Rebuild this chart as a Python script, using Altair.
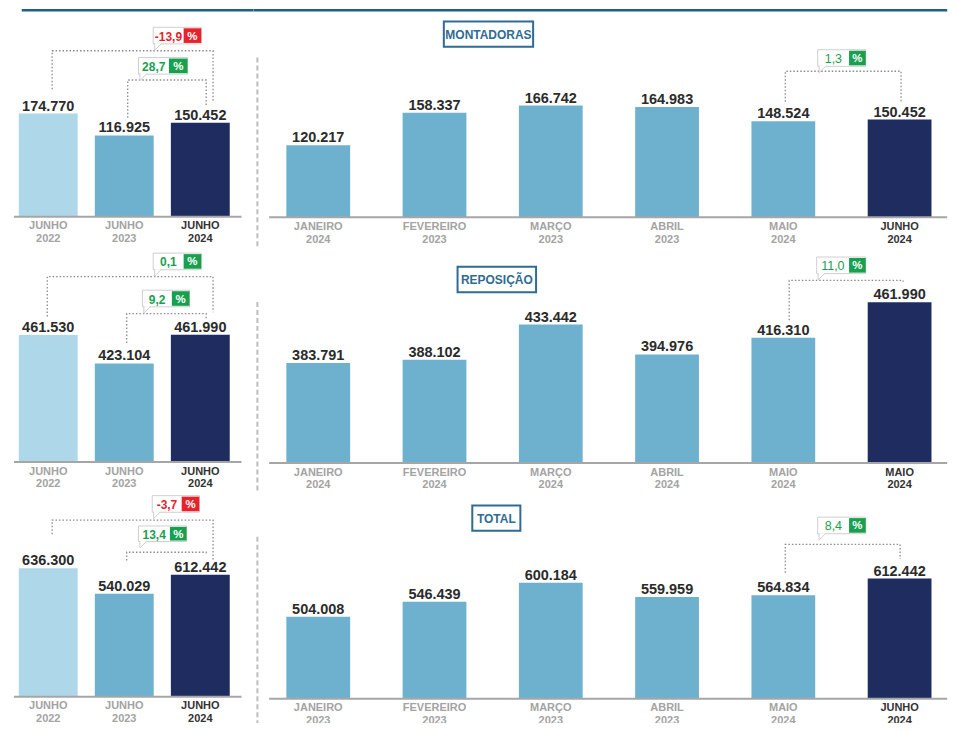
import altair as alt
import pandas as pd

SX = 941 / 957
SY = 715 / 731

# ---------------- data ----------------
titles = ["MONTADORAS", "REPOSIÇÃO", "TOTAL"]

left_months = ["JUNHO", "JUNHO", "JUNHO"]
left_years = ["2022", "2023", "2024"]
montadoras_left = [174770, 116925, 150452]
reposicao_left = [461530, 423104, 461990]
total_left = [636300, 540029, 612442]

montadoras_months = ["JANEIRO", "FEVEREIRO", "MARÇO", "ABRIL", "MAIO", "JUNHO"]
montadoras_years = ["2024", "2023", "2023", "2023", "2024", "2024"]
montadoras_right = [120217, 158337, 166742, 164983, 148524, 150452]

reposicao_months = ["JANEIRO", "FEVEREIRO", "MARÇO", "ABRIL", "MAIO", "MAIO"]
reposicao_years = ["2024", "2024", "2024", "2024", "2024", "2024"]
reposicao_right = [383791, 388102, 433442, 394976, 416310, 461990]

total_months = ["JANEIRO", "FEVEREIRO", "MARÇO", "ABRIL", "MAIO", "JUNHO"]
total_years = ["2023", "2023", "2023", "2023", "2024", "2024"]
total_right = [504008, 546439, 600184, 559959, 564834, 612442]

montadoras_changes = ["-13,9", "28,7"]
reposicao_changes = ["0,1", "9,2"]
total_changes = ["-3,7", "13,4"]
montadoras_month_change = "1,3"
reposicao_month_change = "11,0"
total_month_change = "8,4"

# ---------------- style ----------------
LIGHT, MEDIUM, NAVY = "#aed7ea", "#6eb1cf", "#1e2c5f"
RED, GREEN = "#e8222b", "#19a04f"
TITLE_C = "#2f6b95"
FONT = "Liberation Sans"
NARROW = "Liberation Sans Narrow, Liberation Sans, sans-serif"


def fmt(v):
    return f"{v:,}".replace(",", ".")


class P:
    """Panel geometry (reference-pixel units) and the linear value scale."""

    def __init__(self, W, R, yb, a, b, x0, step, bw):
        self.W, self.R, self.yb, self.a, self.b = W, R, yb, a, b
        self.x0, self.step, self.bw = x0, step, bw

    def xi(self, px):
        return (px - self.x0) / self.step

    def yv(self, h):
        return (h - self.a) / self.b * 1000

    def ry(self, rowy):
        return self.yv(self.yb - rowy)

    def fit_h(self, v):
        return self.a + self.b * v / 1000


def panel(p, values, months, years, colors, hl, rule_x, brackets, callouts,
          bold_nums, title=None, sep=None, topline=None, clip=False):
    xs = alt.Scale(domain=[p.xi(0), p.xi(p.W)], nice=False, zero=False, padding=0)
    ys = alt.Scale(domain=[p.ry(p.R), p.ry(0)], nice=False, zero=False, padding=0)

    def X(f):
        return alt.X(f + ":Q", scale=xs, axis=None)

    def Y(f):
        return alt.Y(f + ":Q", scale=ys, axis=None)

    base = p.yv(0)
    n = len(values)
    layers = []

    if topline:
        df = pd.DataFrame({"x": [p.xi(topline[0])], "x2": [p.xi(topline[1])], "y": [p.ry(1.5)]})
        layers.append(alt.Chart(df).mark_rule(color="#1f5f88", strokeWidth=2.5)
                      .encode(x=X("x"), x2="x2:Q", y=Y("y")))
    if sep:
        df = pd.DataFrame({"x": [p.xi(4)], "y": [p.ry(sep[0])], "y2": [p.ry(sep[1])]})
        layers.append(alt.Chart(df).mark_rule(color="#bdbdbd", strokeWidth=2, strokeDash=[5, 3])
                      .encode(x=X("x"), y=Y("y"), y2="y2:Q"))

    if title:
        tx0, tx1, ty0, ty1 = title[1]
        df = pd.DataFrame({"x": [p.xi(tx0)], "x2": [p.xi(tx1)], "y": [p.ry(ty0)], "y2": [p.ry(ty1)],
                           "cx": [p.xi((tx0 + tx1) / 2)], "cy": [p.ry((ty0 + ty1) / 2)], "t": [title[0]]})
        layers.append(alt.Chart(df).mark_rect(fill="white", stroke=TITLE_C, strokeWidth=2)
                      .encode(x=X("x"), x2="x2:Q", y=Y("y"), y2="y2:Q"))
        layers.append(alt.Chart(df).mark_text(font=NARROW, fontSize=12, fontWeight="bold",
                                              color=TITLE_C, baseline="middle", dy=1)
                      .encode(x=X("cx"), y=Y("cy"), text="t:N"))

    bars = pd.DataFrame({"x": list(range(n)), "y": values, "y2": [base] * n,
                         "c": colors, "t": [fmt(v) for v in values]})
    layers.append(alt.Chart(bars).mark_bar(width=p.bw * SX)
                  .encode(x=X("x"), y=Y("y"), y2="y2:Q", color=alt.Color("c:N", scale=None)))
    layers.append(alt.Chart(bars).mark_text(font=FONT, fontSize=14.5, fontWeight="bold",
                                            color="#2b2b2b", baseline="alphabetic", dy=-3)
                  .encode(x=X("x"), y=Y("y"), text="t:N"))

    # baseline
    df = pd.DataFrame({"x": [p.xi(rule_x[0])], "x2": [p.xi(rule_x[1])], "y": [base]})
    layers.append(alt.Chart(df).mark_rule(color="#a6a6a6", strokeWidth=2)
                  .encode(x=X("x"), x2="x2:Q", y=Y("y")))

    # category labels
    rows_n, rows_h = [], []
    for i in range(n):
        for txt, h in ((months[i], -10), (years[i], -23)):
            (rows_h if i == hl else rows_n).append({"x": i, "y": p.yv(h), "t": txt})
    for rows, col, wt in ((rows_n, "#a3a3a3", "bold"), (rows_h, "#333333", "bold")):
        layers.append(alt.Chart(pd.DataFrame(rows)).mark_text(font=FONT, fontSize=11, fontWeight=wt,
                                                              color=col, baseline="middle", clip=clip)
                      .encode(x=X("x"), y=Y("y"), text="t:N"))

    # dotted brackets
    brows = []
    for k, (i, xs0, off0, lvl, j, xs1, off1) in enumerate(brackets):
        y0 = p.yb - (p.fit_h(values[i]) + off0)
        y1 = p.yb - (p.fit_h(values[j]) + off1)
        pts = [(xs0, y0), (xs0, lvl), (xs1, lvl), (xs1, y1)]
        for o, (px, ry) in enumerate(pts):
            brows.append({"b": k, "o": o, "x": p.xi(px), "y": p.ry(ry)})
    layers.append(alt.Chart(pd.DataFrame(brows)).mark_line(color="#8a8a8a", strokeWidth=1.3,
                                                          strokeDash=[1.5, 2])
                  .encode(x=X("x"), y=Y("y"), detail="b:N", order="o:Q"))

    # callouts
    box, sq, num, pct, tail = [], [], [], [], []
    for (L, top, nw, sw, h, txt, col) in callouts:
        box.append({"x": p.xi(L), "x2": p.xi(L + nw + sw), "y": p.ry(top), "y2": p.ry(top + h)})
        sq.append({"x": p.xi(L + nw), "x2": p.xi(L + nw + sw), "y": p.ry(top + 1), "y2": p.ry(top + h - 1), "c": col})
        num.append({"x": p.xi(L + nw / 2), "y": p.ry(top + h / 2), "t": txt, "c": col})
        pct.append({"x": p.xi(L + nw + sw / 2), "y": p.ry(top + h / 2), "t": "%"})
        tail.append({"x": p.xi(L + 5), "y": p.ry(top + h + 3)})
    layers.append(alt.Chart(pd.DataFrame(box)).mark_rect(fill="white", stroke="#cfcfcf", strokeWidth=1)
                  .encode(x=X("x"), x2="x2:Q", y=Y("y"), y2="y2:Q"))
    layers.append(alt.Chart(pd.DataFrame(tail)).mark_point(shape="M-1,-1L-1,1L1,-1", size=49, filled=True,
                                                           fill="white", stroke="#cfcfcf", strokeWidth=1,
                                                           opacity=1)
                  .encode(x=X("x"), y=Y("y")))
    layers.append(alt.Chart(pd.DataFrame(sq)).mark_rect()
                  .encode(x=X("x"), x2="x2:Q", y=Y("y"), y2="y2:Q", color=alt.Color("c:N", scale=None)))
    layers.append(alt.Chart(pd.DataFrame(num)).mark_text(font=FONT, fontSize=12 if bold_nums else 12.5,
                                                         fontWeight="bold" if bold_nums else "normal",
                                                         baseline="middle", dy=1)
                  .encode(x=X("x"), y=Y("y"), text="t:N", color=alt.Color("c:N", scale=None)))
    layers.append(alt.Chart(pd.DataFrame(pct)).mark_text(font=FONT, fontSize=11.5, fontWeight="bold",
                                                         color="white", baseline="middle", dy=1)
                  .encode(x=X("x"), y=Y("y"), text="t:N"))

    return alt.layer(*layers).properties(width=p.W * SX, height=p.R * SY)


LCOL = [LIGHT, MEDIUM, NAVY]
RCOL = [MEDIUM] * 5 + [NAVY]

# row 1
pL1 = P(250, 245, 213, 38.1, 0.386, 41, 77.5, 60)
pR1 = P(707, 245, 213.5, -31.7, 0.8755, 66, 118.5, 65)
# row 2
pL2 = P(250, 250, 219, -218.3, 0.7547, 41, 77.5, 60)
pR2 = P(707, 250, 220, -202.9, 0.7954, 66, 118.5, 65)
# row 3
pL3 = P(250, 236, 209, -40.1, 0.2697, 41, 77.5, 60)
pR3 = P(707, 236, 211, -97.4, 0.36, 66, 118.5, 65)


def col_of(txt):
    return RED if txt.startswith("-") else GREEN


L1 = panel(pL1, montadoras_left, left_months, left_years, LCOL, 2, (6, 238),
           [(0, 45, 25, 43, 2, 209, 21), (1, 122, 18, 73, 2, 202, 18)],
           [(148, 19, 31, 18, 17, montadoras_changes[0], col_of(montadoras_changes[0])),
            (133, 50, 31, 19, 17, montadoras_changes[1], col_of(montadoras_changes[1]))],
           True, topline=(14, 250))
R1 = panel(pR1, montadoras_right, montadoras_months, montadoras_years, RCOL, 5, (16, 707),
           [(4, 542, 20, 64, 5, 660, 18)],
           [(575, 42, 32, 17, 17, montadoras_month_change, col_of(montadoras_month_change))],
           False, title=(titles[0], (194, 285, 13, 39)), sep=(50, 245), topline=(0, 707))

L2 = panel(pL2, reposicao_left, left_months, left_years, LCOL, 2, (6, 238),
           [(0, 40, 19, 29, 2, 209, 23), (1, 121, 21, 67, 2, 202, 15)],
           [(148, 5, 31, 18, 17, reposicao_changes[0], col_of(reposicao_changes[0])),
            (137, 43, 30, 18, 17, reposicao_changes[1], col_of(reposicao_changes[1]))],
           True)
R2 = panel(pR2, reposicao_right, reposicao_months, reposicao_years, RCOL, 5, (16, 707),
           [(4, 546, 18, 33, 5, 662, 21)],
           [(574, 9, 33, 17, 17, reposicao_month_change, col_of(reposicao_month_change))],
           False, title=(titles[1], (208, 288, 19, 45)), sep=(55, 250))

L3 = panel(pL3, total_left, left_months, left_years, LCOL, 2, (6, 238),
           [(0, 45, 35, 28, 2, 209, 15), (1, 121, 34, 61, 2, 202, 20)],
           [(147, 3, 30, 18, 17, total_changes[0], col_of(total_changes[0])),
            (133, 34, 32, 17, 16, total_changes[1], col_of(total_changes[1]))],
           True, clip=True)
R3 = panel(pR3, total_right, total_months, total_years, RCOL, 5, (16, 707),
           [(4, 542, 23, 53, 5, 659, 20)],
           [(575, 25, 32, 17, 17, total_month_change, col_of(total_month_change))],
           False, title=(titles[2], (223, 272, 13, 39)), sep=(45, 236), clip=True)

chart = (alt.concat(L1, R1, L2, R2, L3, R3, columns=2, spacing=0, bounds="flush")
         .properties(padding=0, background="white")
         .configure_view(stroke=None))

chart.save("out.html", embed_options={"renderer": "svg", "actions": False})
